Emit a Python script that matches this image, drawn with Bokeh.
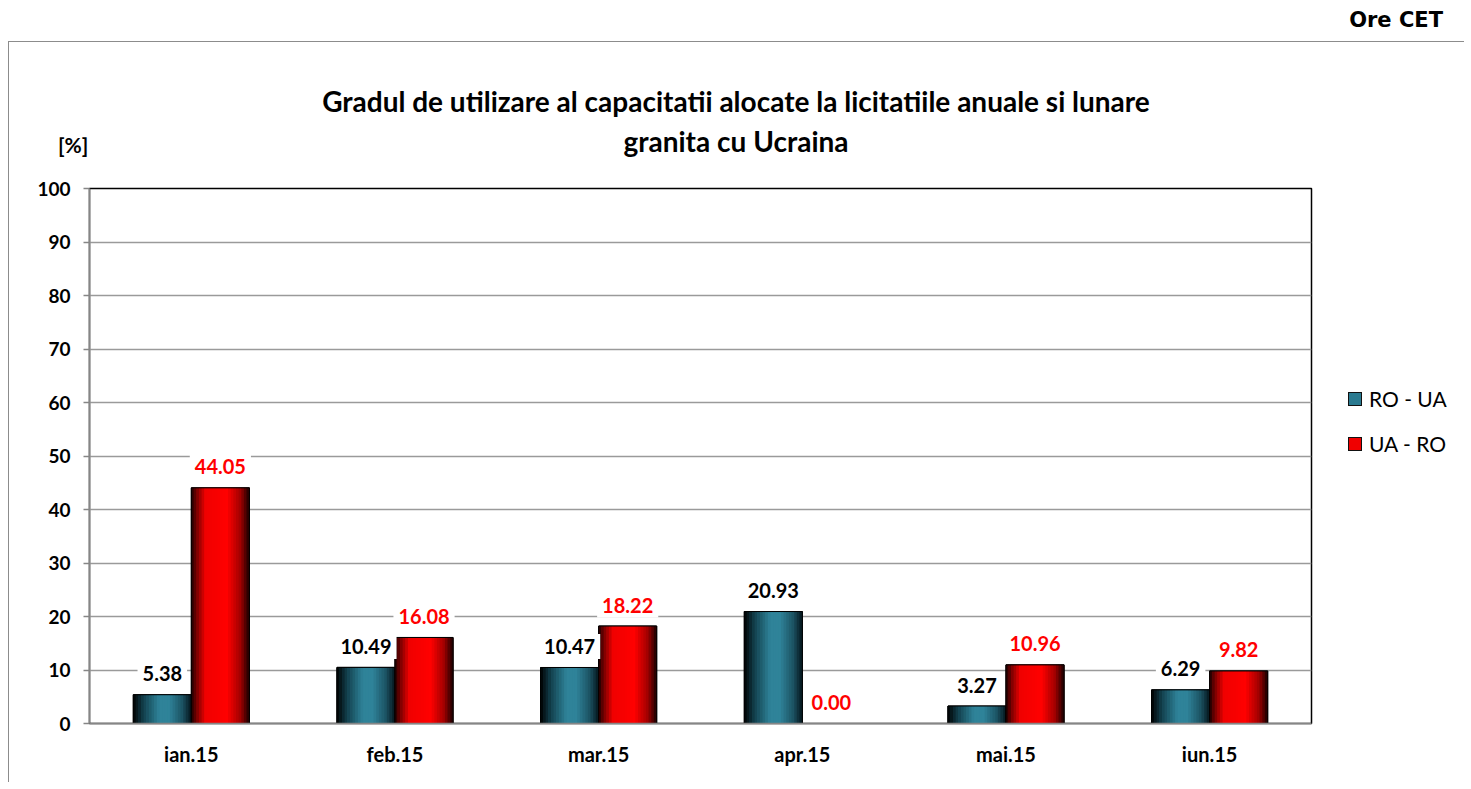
from bokeh.plotting import figure
from bokeh.models import ColumnDataSource, Div, FactorRange, Range1d, FixedTicker
from bokeh.layouts import column, row
from bokeh.transform import dodge
from bokeh.core.properties import value
from bokeh.embed import file_html
from bokeh.resources import INLINE

# ---------------- data ----------------
months = ["ian.15", "feb.15", "mar.15", "apr.15", "mai.15", "iun.15"]
ro_ua = [5.38, 10.49, 10.47, 20.93, 3.27, 6.29]
ua_ro = [44.05, 16.08, 18.22, 0.00, 10.96, 9.82]
series_names = ["RO - UA", "UA - RO"]
title_lines = ["Gradul de utilizare al capacitatii alocate la licitatiile anuale si lunare",
               "granita cu Ucraina"]
y_ticks = [0, 10, 20, 30, 40, 50, 60, 70, 80, 90, 100]
unit_label = "[%]"
corner_note = "Ore CET"

# ---------------- styles ----------------
FONT = "Lato"
teal_stops = [(0.0, "#000000"), (0.18, "#12404d"), (0.45, "#2f8399"), (0.62, "#2f8399"),
              (0.85, "#1b5262"), (1.0, "#05161c")]
red_stops = [(0.0, "#1a0000"), (0.10, "#7a0000"), (0.25, "#f00000"), (0.62, "#ff0000"),
             (0.85, "#a00000"), (1.0, "#1a0000")]
legend_colors = ["#2a7a90", "#f00000"]


def interp(stops, t):
    for (t0, c0), (t1, c1) in zip(stops[:-1], stops[1:]):
        if t0 <= t <= t1:
            f = (t - t0) / (t1 - t0) if t1 > t0 else 0
            a = [int(c0[k:k + 2], 16) for k in (1, 3, 5)]
            b = [int(c1[k:k + 2], 16) for k in (1, 3, 5)]
            return "#%02x%02x%02x" % tuple(round(a[j] + (b[j] - a[j]) * f) for j in range(3))
    return stops[-1][1]


src = ColumnDataSource(dict(
    month=months, ro=ro_ua, ua=ua_ro,
    ro_lbl=[f"{v:.2f}" for v in ro_ua],
    ua_lbl=[f"{v:.2f}" for v in ua_ro],
))

PW = 1304
p = figure(x_range=FactorRange(*months), y_range=Range1d(0, 100),
           width=PW, height=620, output_backend="svg", toolbar_location=None,
           min_border_left=80, min_border_right=2, min_border_top=26, min_border_bottom=59,
           background_fill_color="white", border_fill_color=None)

BW = 0.285
OFF = 0.1425
N = 22
for col, off, stops, mid in (("ro", -OFF, teal_stops, "#2f8399"), ("ua", OFF, red_stops, "#ff0000")):
    p.vbar(x=dodge("month", off, range=p.x_range), top=col, width=BW, source=src,
           fill_color=mid, line_color="#000000", line_width=1)
    for i in range(N):
        t = (i + 0.5) / N
        o = off - BW / 2 + t * BW
        p.vbar(x=dodge("month", o, range=p.x_range), top=col, width=BW / N * 1.2,
               source=src, fill_color=interp(stops, t), line_color=None)
    p.vbar(x=dodge("month", off, range=p.x_range), top=col, width=BW, source=src,
           fill_color=None, line_color="#000000", line_width=1)

# data labels
for col, lbl, off, color in (("ro", "ro_lbl", -OFF, "#000000"), ("ua", "ua_lbl", OFF, "#ff0000")):
    p.text(x=dodge("month", off, range=p.x_range), y=col, text=lbl, source=src,
           text_align="center", text_baseline="middle", y_offset=-21,
           text_font=value(FONT), text_font_style="bold", text_font_size="20px",
           text_color=color, background_fill_color="white", padding=5)

# axes & grid
p.yaxis.ticker = FixedTicker(ticks=y_ticks)
p.yaxis.major_label_text_font = FONT
p.yaxis.major_label_text_font_style = "bold"
p.yaxis.major_label_text_font_size = "19px"
p.yaxis.major_label_text_color = "#000000"
p.yaxis.axis_line_color = "#868686"
p.yaxis.axis_line_width = 1.5
p.yaxis.major_tick_line_color = "#868686"
p.yaxis.major_tick_line_width = 1.5
p.yaxis.major_tick_out = 6
p.yaxis.major_tick_in = 0
p.yaxis.minor_tick_line_color = None
p.yaxis.major_label_standoff = 13

p.xaxis.major_label_text_font = FONT
p.xaxis.major_label_text_font_style = "bold"
p.xaxis.major_label_text_font_size = "20px"
p.xaxis.major_label_text_color = "#000000"
p.xaxis.axis_line_color = "#868686"
p.xaxis.axis_line_width = 1.5
p.xaxis.major_tick_line_color = None
p.xaxis.major_label_standoff = 12

p.xgrid.grid_line_color = None
p.ygrid.grid_line_color = "#9a9a9a"
p.ygrid.grid_line_width = 1.5
p.outline_line_color = "#000000"
p.outline_line_width = 1.5
p.x_range.range_padding = 0

# legend (HTML, to the right of the plot frame)
legend_html = '<div style="position:relative;width:151px;height:620px;">'
for k, (name, colr) in enumerate(zip(series_names, legend_colors)):
    cy = 237 + 45 * k
    legend_html += (
        f'<span style="position:absolute;display:block;left:35px;top:{cy - 7}px;'
        f'width:14px;min-width:14px;height:14px;box-sizing:border-box;'
        f'border:1px solid #111;background-color:{colr};"></span>'
        f'<div style="position:absolute;left:56px;top:{cy - 13}px;font-family:{FONT};'
        f'font-size:21px;line-height:26px;color:#000;white-space:nowrap;">{name}</div>'
    )
legend_html += '</div>'
legend_div = Div(text=legend_html, width=1455 - PW - 1, height=620, margin=0)

top_div = Div(text=f'<div style="width:1435px;font-family:\'DejaVu Sans\';font-weight:bold;'
                   f'font-size:21px;line-height:25px;text-align:right;color:#000">{corner_note}</div>',
              width=1455, height=33, margin=0)

title_html = (
    '<div style="position:relative;width:1454px;height:120px;">'
    f'<div style="position:absolute;left:0;top:39px;width:1454px;text-align:center;'
    f'font-family:{FONT};font-weight:bold;font-size:28px;line-height:40px;color:#000;">'
    f'{title_lines[0]}<br>{title_lines[1]}</div>'
    f'<div style="position:absolute;left:49px;top:90px;font-family:{FONT};font-weight:bold;'
    f'font-size:21px;line-height:25px;color:#000;">{unit_label}</div>'
    '</div>'
)
title_div = Div(text=title_html, width=1455, height=120, margin=0)

inner = column(title_div, row(p, legend_div, spacing=0), spacing=0,
               styles={"border-left": "1px solid #8c8c8c", "border-top": "1px solid #8c8c8c"})
layout = column(top_div, inner, spacing=0, margin=(8, 0, 0, 8))

open("out.html", "w").write(file_html(layout, INLINE))
